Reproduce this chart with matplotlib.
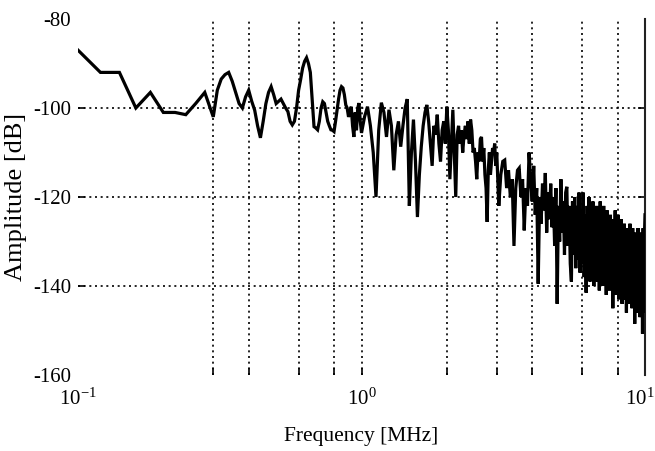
import matplotlib
matplotlib.use("Agg")
import matplotlib.pyplot as plt
from matplotlib.transforms import ScaledTranslation
import numpy as np

plt.rcParams['font.family'] = ['Liberation Serif', 'DejaVu Serif']
plt.rcParams['mathtext.fontset'] = 'custom'
plt.rcParams['mathtext.rm'] = 'Liberation Serif'
plt.rcParams['mathtext.it'] = 'Liberation Serif:italic'
plt.rcParams['axes.unicode_minus'] = False

# ---------------- data ----------------
freq_a = [0.10, 0.12, 0.14, 0.16, 0.18, 0.20, 0.22, 0.24, 0.26, 0.28]
amp_a = [-87, -92, -92, -100, -96.5, -101, -101, -101.5, -99, -96.5]

freq_b = [0.30, 0.31, 0.32, 0.33, 0.34, 0.35, 0.36, 0.37, 0.38, 0.39,
          0.40, 0.41, 0.42, 0.43, 0.44, 0.45, 0.46, 0.47, 0.48, 0.49,
          0.50, 0.51, 0.52, 0.53, 0.54, 0.55, 0.56, 0.57, 0.58, 0.59,
          0.60, 0.61, 0.62, 0.63, 0.64, 0.65, 0.66, 0.67, 0.68, 0.69,
          0.70, 0.71, 0.72, 0.73, 0.74, 0.75, 0.76, 0.77, 0.78, 0.79,
          0.80, 0.81, 0.82, 0.83, 0.84, 0.85, 0.86, 0.87, 0.88, 0.89,
          0.90, 0.91, 0.92, 0.93, 0.94, 0.95, 0.96, 0.97, 0.98, 0.99]
amp_b = [-102, -96, -93.5, -92.5, -92, -94, -96.5, -99, -100, -97.5,
         -96, -98.5, -100.5, -104, -106.7, -103, -99, -96.5, -95.2, -97,
         -99, -98.5, -98, -99, -100, -100.8, -103, -103.8, -103, -100,
         -96, -93.6, -91, -89.5, -88.7, -90, -92, -98, -104.2, -104.5,
         -104.9, -103, -100, -98.6, -99, -101, -103, -104, -104.9, -105,
         -105.3, -103, -100.4, -98, -96, -95.2, -95.5, -97, -99.3, -100,
         -102, -101, -99.7, -104, -106.5, -101, -105, -100, -98.9, -103]

freq_c = [1.000, 1.025, 1.050, 1.075, 1.100, 1.125, 1.150, 1.175, 1.200, 1.225,
          1.250, 1.275, 1.300, 1.325, 1.350, 1.375, 1.400, 1.425, 1.450, 1.475,
          1.500, 1.525, 1.550, 1.575, 1.600, 1.625, 1.650, 1.675, 1.700, 1.725,
          1.750, 1.775, 1.800, 1.825, 1.850, 1.875, 1.900, 1.925, 1.950, 1.975,
          2.000, 2.025, 2.050, 2.075, 2.100, 2.125, 2.150, 2.175, 2.200, 2.225,
          2.250, 2.275, 2.300, 2.325, 2.350, 2.375, 2.400, 2.425, 2.450, 2.475,
          2.500, 2.525, 2.550, 2.575, 2.600, 2.625, 2.650, 2.675, 2.700, 2.725,
          2.750, 2.775, 2.800, 2.825, 2.850, 2.875, 2.900, 2.925, 2.950, 2.975]
amp_c = [-105.6, -102, -99.7, -104, -110, -120, -105, -98.8, -101, -106.5,
         -100.4, -104, -114, -106, -103, -108.7, -104, -100, -98, -122,
         -110, -102.6, -112, -124.5, -115, -108.7, -104, -101, -99.3, -103,
         -108, -113, -104, -106, -101.5, -108, -112, -105, -103, -108,
         -99.7, -105, -116, -108, -100.4, -110, -120, -106, -104, -108,
         -105, -110, -106, -104, -107, -103, -108, -102.6, -105, -110,
         -109, -112, -116, -110, -112, -107, -106.5, -112, -109, -115,
         -118, -125.6, -114, -110, -115, -112, -109, -110, -108, -113]

freq_d = [3.00, 3.05, 3.10, 3.15, 3.20, 3.25, 3.30, 3.35, 3.40, 3.45,
          3.50, 3.55, 3.60, 3.65, 3.70, 3.75, 3.80, 3.85, 3.90, 3.95,
          4.00, 4.05, 4.10, 4.15, 4.20, 4.25, 4.30, 4.35, 4.40, 4.45,
          4.50, 4.55, 4.60, 4.65, 4.70, 4.75, 4.80, 4.85, 4.90, 4.95,
          5.00, 5.05, 5.10, 5.15, 5.20, 5.25, 5.30, 5.35, 5.40, 5.45,
          5.50, 5.55, 5.60, 5.65, 5.70, 5.75, 5.80, 5.85, 5.90, 5.95,
          6.00, 6.05, 6.10, 6.15, 6.20, 6.25, 6.30, 6.35, 6.40, 6.45,
          6.50, 6.55, 6.60, 6.65, 6.70, 6.75, 6.80, 6.85, 6.90, 6.95,
          7.00, 7.05, 7.10, 7.15, 7.20, 7.25, 7.30, 7.35, 7.40, 7.45,
          7.50, 7.55, 7.60, 7.65, 7.70, 7.75, 7.80, 7.85, 7.90, 7.95,
          8.00, 8.05, 8.10, 8.15, 8.20, 8.25, 8.30, 8.35, 8.40, 8.45,
          8.50, 8.55, 8.60, 8.65, 8.70, 8.75, 8.80, 8.85, 8.90, 8.95,
          9.00, 9.05, 9.10, 9.15, 9.20, 9.25, 9.30, 9.35, 9.40, 9.45,
          9.50, 9.55, 9.60, 9.65, 9.70, 9.75, 9.80, 9.85, 9.90, 9.95,
          10.00]
amp_d = [-110, -122, -115, -112, -111.7, -118, -114, -120, -116, -131,
         -118, -114, -113.5, -120, -116, -127.5, -118, -122, -110, -116,
         -121, -113, -124, -118, -139.5, -120, -126, -117, -123, -114.6,
         -128, -119, -125, -117, -126.8, -120, -131, -118, -144, -122,
         -130, -116, -128, -121, -133, -119, -117.7, -131, -122, -135,
         -139, -121, -133, -120, -136, -122, -134, -119, -137, -123,
         -135, -119, -138, -124, -141.5, -122, -136, -120, -139, -125,
         -137, -121, -140, -124, -136, -122, -139, -126, -141, -121,
         -138, -125, -140, -122, -137, -127, -142, -123, -139, -126,
         -141, -124, -138, -127, -145, -125, -140, -123, -142, -128,
         -139, -124, -143, -127, -140, -125, -144, -129, -141, -126,
         -143, -128, -146, -127, -141, -129, -144, -126, -142, -130,
         -145, -127, -143, -129, -148.5, -128, -144, -130, -146, -127,
         -143, -131, -147, -128, -145, -130, -150.7, -127, -146, -129,
         -124]

freq = freq_a + freq_b + freq_c + freq_d
amp = amp_a + amp_b + amp_c + amp_d

y_ticks = [-80, -100, -120, -140, -160]
y_ticklabels = ['-80', '-100', '-120', '-140', '-160']
x_ticks = [0.1, 1, 10]
x_ticklabels = ['$10^{-1}$', '$10^{0}$', '$10^{1}$']
x_grid = [0.3, 0.4, 0.6, 0.8, 1, 2, 3, 4, 6, 8]
y_grid = [-100, -120, -140]

# ---------------- figure ----------------
W, H = 655, 451
fig = plt.figure(figsize=(W / 100, H / 100), dpi=100)
ax = fig.add_axes([78 / W, 1 - 375 / H, (645 - 78) / W, (375 - 19) / H])
ax.set_xscale('log')
ax.set_xlim(0.1, 10)
ax.set_ylim(-160, -80)

dot = (0, (1.2, 2.2))
for xv in x_grid:
    ax.axvline(xv, color='black', lw=1.2, ls=dot, zorder=1)
for yv in y_grid:
    ax.axhline(yv, color='black', lw=1.2, ls=dot, zorder=1)

ax.plot(freq, amp, color='black', lw=2.3, zorder=3, solid_joinstyle='miter')

for s in ['left', 'bottom', 'top']:
    ax.spines[s].set_visible(False)
ax.spines['right'].set_linewidth(1.5)
ax.spines['right'].set_color('#222222')

ax.set_yticks(y_ticks)
ax.set_yticklabels(y_ticklabels)
ax.set_xticks(x_ticks)
ax.set_xticklabels(x_ticklabels)
ax.set_xticks(x_grid, minor=True)
ax.xaxis.set_minor_formatter(matplotlib.ticker.NullFormatter())
ax.tick_params(axis='both', which='both', direction='in', length=5, width=1.2,
               labelsize=15, colors='black')
ax.tick_params(axis='y', right=True, pad=5)
ax.tick_params(axis='x', pad=10)

# no tick marks at the corner values (as in the reference)
yt = ax.yaxis.get_major_ticks()
for t in (yt[0], yt[-1]):
    t.tick1line.set_visible(False)
    t.tick2line.set_visible(False)
xt = ax.xaxis.get_major_ticks()
for t in (xt[0], xt[-1]):
    t.tick1line.set_visible(False)

# keep the right-most decade label inside the picture
last = ax.get_xticklabels()[-1]
last.set_horizontalalignment('right')
last.set_transform(last.get_transform() + ScaledTranslation(10 / 100, 0, fig.dpi_scale_trans))

ax.set_xlabel('Frequency [MHz]', fontsize=15.5, labelpad=12)
ax.set_ylabel('Amplitude [dB]', fontsize=19, labelpad=4)

fig.savefig('out.png', dpi=100)
